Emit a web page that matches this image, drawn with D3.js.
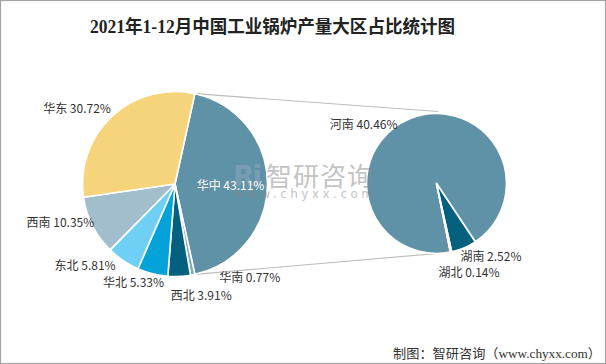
<!DOCTYPE html>
<html><head><meta charset="utf-8">
<script src="https://cdn.jsdelivr.net/npm/d3@7/dist/d3.min.js"></script>
<style>
html,body{margin:0;padding:0;background:#fff;}
svg{display:block;}
</style></head>
<body>
<svg id="chart" width="606" height="364"></svg>
<script>
// ---- data ----
const title = "2021年1-12月中国工业锅炉产量大区占比统计图";
const source = "制图：智研咨询（www.chyxx.com）";
const regions = ["华中", "华南", "西北", "华北", "东北", "西南", "华东"];
const regionValues = [43.11, 0.77, 3.91, 5.33, 5.81, 10.35, 30.72];
const provinces = ["河南", "湖南", "湖北"];
const provinceValues = [40.46, 2.52, 0.14];

// ---- styles / layout ----
const regionColors = ["#5f91a7", "#86a9ba", "#04607f", "#03a3da", "#6fcff5", "#a2becd", "#f6d47c"];
const provinceColors = ["#5f91a7", "#04607f", "#a2becd"];
// label offsets from the slice's outer mid-point [dx, dy]
const regionLabelNudge = [null, [57, 2], [22, 18], [-19, 8], [-38, 4], [-32, -4], [-35, -9]];
const provinceLabelNudge = [[-46, 5], [27, 8], [18, 20]];

const svg = d3.select("#chart");
const W = 606, H = 364;
const fontSans = "'Noto Sans CJK SC', 'Noto Sans', sans-serif";
const fontSerif = "'Liberation Serif', 'DejaVu Serif', 'Noto Sans CJK SC', serif";

svg.append("rect").attr("x", 0.5).attr("y", 0.5).attr("width", W - 1).attr("height", H - 1)
  .attr("fill", "#fff").attr("stroke", "#a3a3a3").attr("stroke-width", 1.2);

svg.append("text").text(title)
  .attr("x", 90).attr("y", 27).attr("dominant-baseline", "central")
  .attr("textLength", 365).attr("lengthAdjust", "spacingAndGlyphs")
  .attr("font-family", fontSerif).attr("font-size", 18).attr("font-weight", "bold")
  .attr("fill", "#222");

// ---- left pie ----
const L = {cx: 175, cy: 184, r: 92.5};
const total = d3.sum(regionValues);
const mainShare = regionValues[0] / total;
const leftStart = Math.PI / 2 - mainShare * Math.PI;
const leftPie = d3.pie().sort(null).value(d => d)
  .startAngle(leftStart).endAngle(leftStart + 2 * Math.PI);
const leftArcs = leftPie(regionValues);
const leftArc = d3.arc().innerRadius(0).outerRadius(L.r);

// ---- right pie ----
const R = {cx: 436.5, cy: 183.5, r: 70};
const rightStart = 168.6 * Math.PI / 180;
const rightPie = d3.pie().sort(null).value(d => d)
  .startAngle(rightStart).endAngle(rightStart + 2 * Math.PI);
const rightArcs = rightPie(provinceValues);
const rightArc = d3.arc().innerRadius(0).outerRadius(R.r);

function polar(c, r, a) { return [c.cx + r * Math.sin(a), c.cy - r * Math.cos(a)]; }

// connector lines
const m = leftArcs[0];
const p1 = polar(L, L.r, m.startAngle), p2 = polar(L, L.r, m.endAngle);
const q1 = polar(R, R.r + 2, 1.2 * Math.PI / 180);
const q2 = polar(R, R.r, 170.5 * Math.PI / 180);
svg.append("line").attr("x1", p1[0]).attr("y1", p1[1]).attr("x2", q1[0]).attr("y2", q1[1])
  .attr("stroke", "#bdbdbd").attr("stroke-width", 1.2);
svg.append("line").attr("x1", p2[0]).attr("y1", p2[1]).attr("x2", q2[0]).attr("y2", q2[1])
  .attr("stroke", "#bdbdbd").attr("stroke-width", 1.2);

const gL = svg.append("g").attr("transform", `translate(${L.cx},${L.cy})`);
gL.selectAll("path").data(leftArcs).join("path")
  .attr("d", leftArc).attr("fill", (d, i) => regionColors[i])
  .attr("stroke", "#fff").attr("stroke-width", 1.6).attr("stroke-linejoin", "round");

const gR = svg.append("g").attr("transform", `translate(${R.cx},${R.cy})`);
gR.selectAll("path").data(rightArcs).join("path")
  .attr("d", rightArc).attr("fill", (d, i) => provinceColors[i])
  .attr("stroke", "#fff").attr("stroke-width", 1.6).attr("stroke-linejoin", "round");

// ---- watermark ----
const wm = svg.append("g").attr("opacity", 0.5);
wm.append("text").text("Ri").attr("x", 233).attr("y", 186)
  .attr("font-family", "'DejaVu Sans', sans-serif").attr("font-weight", "bold")
  .attr("font-size", 28).attr("fill", "#8fa9c2").attr("textLength", 29);
wm.append("text").text("智研咨询").attr("x", 266).attr("y", 174).attr("dominant-baseline", "central")
  .attr("font-family", fontSans).attr("font-size", 26).attr("fill", "#8a8a8a")
  .attr("textLength", 107);
wm.append("text").text("www.chyxx.com").attr("x", 234).attr("y", 194).attr("dominant-baseline", "central")
  .attr("font-family", "'DejaVu Sans', sans-serif").attr("font-size", 12).attr("fill", "#8a8a8a")
  .attr("textLength", 139);

// ---- labels ----
function fmt(v) { return v.toFixed(2) + "%"; }
leftArcs.forEach((a, i) => {
  const mid = (a.startAngle + a.endAngle) / 2;
  let x, y, color = "#333";
  if (regionLabelNudge[i] === null) {
    [x, y] = polar({cx: 0, cy: 0}, L.r * 0.6, mid);
    x += L.cx; y += L.cy;
    color = "#fff";
  } else {
    const e = polar(L, L.r, mid);
    x = e[0] + regionLabelNudge[i][0]; y = e[1] + regionLabelNudge[i][1];
  }
  svg.append("text").text(regions[i] + " " + fmt(regionValues[i]))
    .attr("x", x).attr("y", y).attr("text-anchor", "middle").attr("dominant-baseline", "central")
    .attr("font-family", fontSans).attr("font-size", 12).attr("fill", color);
});
rightArcs.forEach((a, i) => {
  const mid = (a.startAngle + a.endAngle) / 2;
  const e = polar(R, R.r, mid);
  svg.append("text").text(provinces[i] + " " + fmt(provinceValues[i]))
    .attr("x", e[0] + provinceLabelNudge[i][0]).attr("y", e[1] + provinceLabelNudge[i][1])
    .attr("text-anchor", "middle").attr("dominant-baseline", "central")
    .attr("font-family", fontSans).attr("font-size", 12).attr("fill", "#333");
});

// ---- source ----
svg.append("text").text(source).attr("x", 393).attr("y", 353).attr("dominant-baseline", "central")
  .attr("textLength", 208).attr("lengthAdjust", "spacingAndGlyphs")
  .attr("font-family", fontSerif).attr("font-size", 13).attr("fill", "#333");
</script>
</body></html>
